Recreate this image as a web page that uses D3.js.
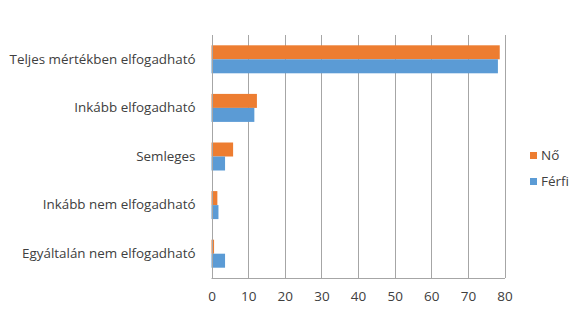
<!DOCTYPE html>
<html><head><meta charset="utf-8">
<script src="https://cdn.jsdelivr.net/npm/d3@7"></script>
<style>body{margin:0;background:#fff}svg{display:block}text{font-family:"Open Sans",sans-serif;fill:#404040}</style>
</head><body>
<script>
const categories = ["Teljes mértékben elfogadható","Inkább elfogadható","Semleges","Inkább nem elfogadható","Egyáltalán nem elfogadható"];
const seriesNames = ["Nő","Férfi"];
const noValues = [78.7, 12.4, 5.9, 1.6, 0.7];
const ferfiValues = [78.2, 11.7, 3.7, 1.9, 3.7];
const xTicks = [0,10,20,30,40,50,60,70,80];
const colors = ["#ED7D31","#5B9BD5"];

const W=580,H=323;
const m={left:211.5,right:504.5,top:35,bottom:278};
const svg=d3.select("body").append("svg").attr("width",W).attr("height",H);
const x=d3.scaleLinear().domain([0,80]).range([m.left,m.right]);
const y=d3.scaleBand().domain(categories).range([m.top,m.bottom]).paddingInner(0.424).paddingOuter(0.212);
const y1=d3.scaleBand().domain(seriesNames).range([0,y.bandwidth()]);

// gridlines
svg.append("g").selectAll("line").data(xTicks.slice(1)).join("line")
  .attr("x1",d=>Math.round(x(d))+0.5).attr("x2",d=>Math.round(x(d))+0.5)
  .attr("y1",m.top).attr("y2",m.bottom).attr("stroke","#a6a6a6").attr("stroke-width",1);

const data=categories.map((c,i)=>({c,vals:[noValues[i],ferfiValues[i]]}));
const g=svg.append("g");
data.forEach(d=>{
  seriesNames.forEach((s,j)=>{
    g.append("rect").attr("x",x(0)).attr("y",y(d.c)+y1(s))
     .attr("width",x(d.vals[j])-x(0)).attr("height",y1.bandwidth())
     .attr("fill",colors[j]);
  });
});

// axes lines
svg.append("line").attr("x1",Math.round(x(0))+0.5).attr("x2",Math.round(x(0))+0.5).attr("y1",m.top).attr("y2",m.bottom).attr("stroke","#a6a6a6");
svg.append("line").attr("x1",x(0)).attr("x2",x(80)+0.5).attr("y1",m.bottom+0.5).attr("y2",m.bottom+0.5).attr("stroke","#a6a6a6");

// x tick labels
const xAxis=d3.axisBottom(x).tickValues(xTicks).tickSize(0).tickPadding(0);
const xa=svg.append("g").attr("transform",`translate(0,${m.bottom+13})`).call(xAxis);
xa.select(".domain").remove();
xa.selectAll("text").attr("font-size",13.5).attr("fill","#404040").attr("font-family","Open Sans");

// y labels
const yAxis=d3.axisLeft(y).tickSize(0).tickPadding(16);
const ya=svg.append("g").attr("transform",`translate(${x(0)},0)`).call(yAxis);
ya.select(".domain").remove();
ya.selectAll("text").attr("font-size",13.4).attr("fill","#404040").attr("font-family","Open Sans");

// legend
const leg=svg.append("g").attr("transform","translate(530,152)");
seriesNames.forEach((s,i)=>{
  const r=leg.append("g").attr("transform",`translate(0,${i*26})`);
  r.append("rect").attr("width",7).attr("height",7).attr("fill",colors[i]);
  r.append("text").attr("x",11).attr("y",3.5).attr("dy","0.35em").attr("font-size",13.5).text(s);
});
</script>
</body></html>
